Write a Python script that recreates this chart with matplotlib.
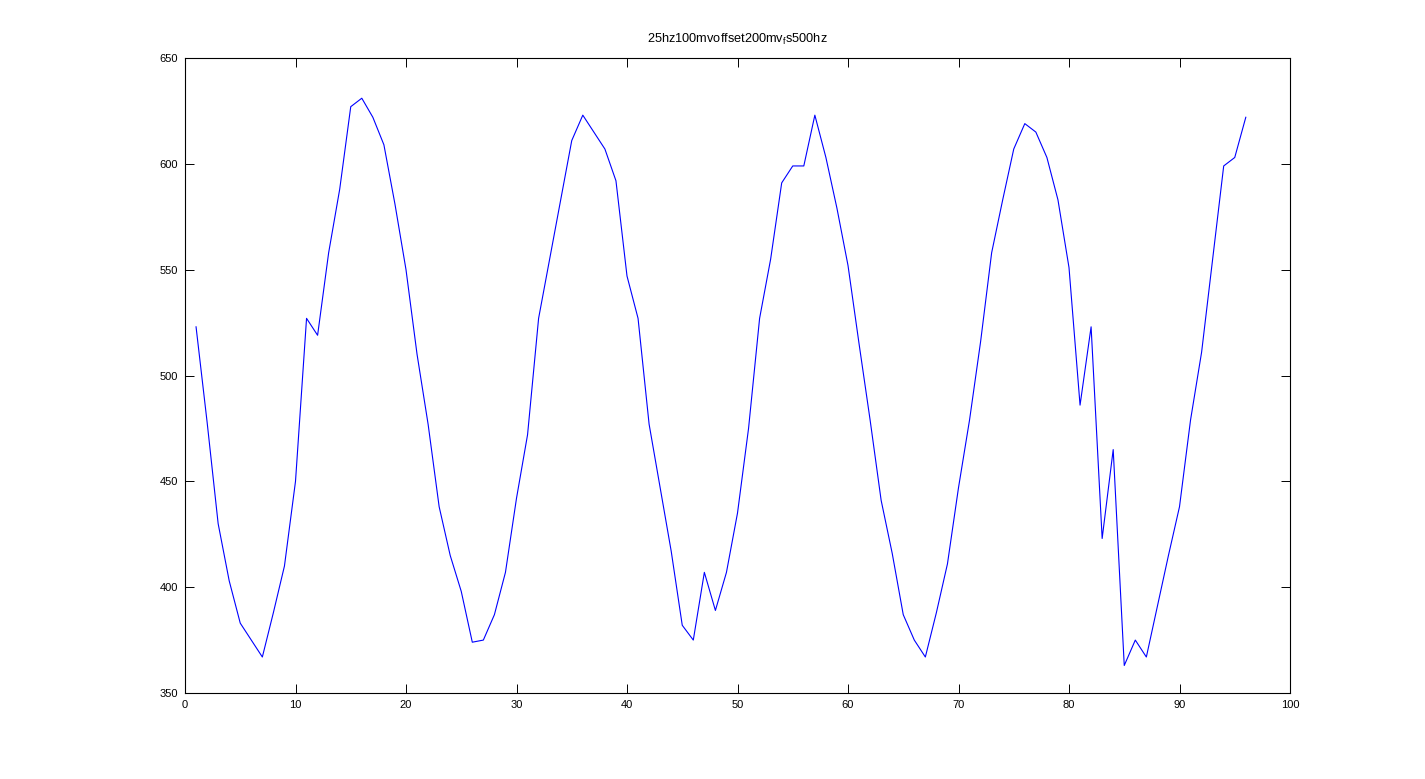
import matplotlib
matplotlib.use("Agg")
import matplotlib.pyplot as plt

sample_index = list(range(1, 97))
values = [523, 478, 430, 403, 383, 375, 367, 388, 410, 450,
          527, 519, 558, 588, 627, 631, 622, 609, 581, 550,
          510, 477, 438, 415, 398, 374, 375, 387, 407, 442,
          472, 527, 555, 583, 611, 623, 615, 607, 592, 547,
          527, 477, 447, 417, 382, 375, 407, 389, 407, 435,
          475, 527, 555, 591, 599, 599, 623, 603, 579, 552,
          515, 479, 441, 416, 387, 375, 367, 388, 411, 447,
          479, 516, 558, 583, 607, 619, 615, 603, 583, 551,
          486, 523, 423, 465, 363, 375, 367, 391, 415, 438,
          479, 511, 555, 599, 603, 622]

x_ticks = list(range(0, 101, 10))
y_ticks = list(range(350, 651, 50))
title_text = r"25hz100mvoffset200mv$_\mathrm{f}$s500hz"

plt.rcParams['font.family'] = ['Liberation Sans', 'DejaVu Sans']
plt.rcParams['mathtext.fontset'] = 'custom'
plt.rcParams['mathtext.rm'] = 'Liberation Sans'

fig = plt.figure(figsize=(14.25, 7.79), dpi=100)
ax = fig.add_axes([185/1425, 1 - 693/779, (1290 - 185)/1425, (693 - 58)/779])
ax.plot(sample_index, values, color=(0, 0, 1), linewidth=0.8)
ax.set_xlim(0, 100)
ax.set_ylim(350, 650)
ax.set_xticks(x_ticks)
ax.set_yticks(y_ticks)
ax.tick_params(direction='in', length=6.5, width=0.7, top=True, right=True,
               labelsize=8, pad=5)
for s in ax.spines.values():
    s.set_linewidth(0.8)
ax.set_title(title_text, fontsize=9.2, pad=11)
fig.savefig("out.png", dpi=100)
